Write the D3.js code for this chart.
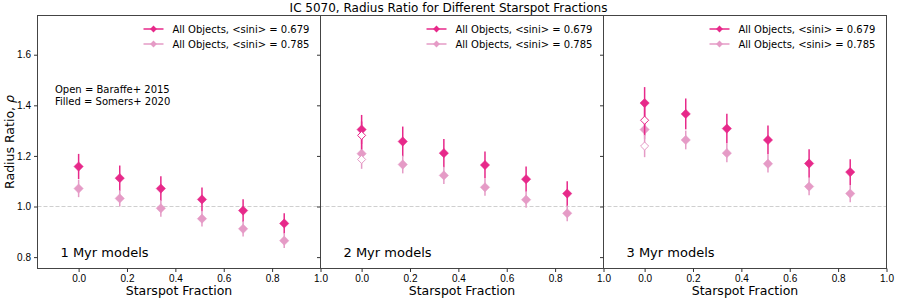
<!DOCTYPE html>
<meta charset="utf-8" />
<style>
  body {
    margin: 0;
    font-family: "DejaVu Sans", sans-serif;
  }
  .tick text {
    font-size: 10px;
    fill: #000;
  }
  .tick line,
  .domain {
    stroke: #333;
  }
</style>
<body>
  <div class="container"></div>

  <script src="https://d3js.org/d3.v7.min.js"></script>
  <script>
    // starspot fractions shared by all panels
    let spotFrac = [0, 0.17, 0.34, 0.51, 0.68, 0.85];
    let xTicks = [0, 0.2, 0.4, 0.6, 0.8, 1.0];
    let yTicks = [0.8, 1.0, 1.2, 1.4, 1.6];
    let panelNames = ["1 Myr models", "2 Myr models", "3 Myr models"];
    let legendNames = ["All Objects, <sini> = 0.679", "All Objects, <sini> = 0.785"];

    // Somers+ 2020 (filled), <sini> = 0.679
    let dark1 = [1.158, 1.112, 1.071, 1.028, 0.984, 0.933];
    let dark1Err = [0.05, 0.05, 0.049, 0.047, 0.045, 0.04];
    let dark2 = [1.304, 1.257, 1.211, 1.164, 1.108, 1.051];
    let dark2Err = [0.058, 0.059, 0.056, 0.053, 0.05, 0.049];
    let dark3 = [1.409, 1.366, 1.308, 1.263, 1.17, 1.136];
    let dark3Err = [0.063, 0.061, 0.059, 0.057, 0.056, 0.051];

    // Somers+ 2020 (filled), <sini> = 0.785
    let light1 = [1.071, 1.032, 0.993, 0.952, 0.912, 0.865];
    let light1Err = [0.034, 0.032, 0.033, 0.031, 0.031, 0.029];
    let light2 = [1.209, 1.166, 1.123, 1.076, 1.027, 0.973];
    let light2Err = [0.036, 0.035, 0.034, 0.033, 0.032, 0.031];
    let light3 = [1.304, 1.263, 1.211, 1.169, 1.079, 1.051];
    let light3Err = [0.038, 0.037, 0.036, 0.035, 0.034, 0.034];

    // Baraffe+ 2015 (open), only at zero spots, 2 and 3 Myr
    let openDark = [null, 1.281, 1.341];
    let openDarkErr = [null, 0.055, 0.06];
    let openLight = [null, 1.186, 1.239];
    let openLightErr = [null, 0.037, 0.044];

    let darkColor = "#e7298a";
    let lightColor = "#e59bc6";

    var width = 897,
      height = 300;
    var plotTop = 15.5,
      plotBottom = 268.5,
      panelW = 283,
      panelLefts = [37.5, 320.5, 603.5];

    var svg = d3
      .select(".container")
      .append("svg")
      .attr("width", width)
      .attr("height", height);

    let y = d3.scaleLinear().domain([0.755, 1.755]).range([plotBottom, plotTop]);

    let darks = [dark1, dark2, dark3];
    let darkErrs = [dark1Err, dark2Err, dark3Err];
    let lights = [light1, light2, light3];
    let lightErrs = [light1Err, light2Err, light3Err];

    let diamond = d3.symbol().type(d3.symbolDiamond2);

    function drawSeries(g, x, vals, errs, color, open) {
      let pts = vals.map(function (v, i) {
        return { x: spotFrac[i], y: v, e: errs[i] };
      }).filter(function (d) {
        return d.y != null;
      });

      g.selectAll(null)
        .data(pts)
        .enter()
        .append("line")
        .attr("x1", function (d) { return x(d.x); })
        .attr("x2", function (d) { return x(d.x); })
        .attr("y1", function (d) { return y(d.y - d.e); })
        .attr("y2", function (d) { return y(d.y + d.e); })
        .attr("stroke", color)
        .attr("stroke-width", 1.5);

      g.selectAll(null)
        .data(pts)
        .enter()
        .append("path")
        .attr("d", diamond.size(open ? 42 : 55)())
        .attr("transform", function (d) {
          return "translate(" + x(d.x) + "," + y(d.y) + ")";
        })
        .attr("fill", open ? "white" : color)
        .attr("stroke", color)
        .attr("stroke-width", open ? 1 : 0.5);
    }

    // dashed y = 1 line across all panels
    svg.append("line")
      .attr("x1", panelLefts[0])
      .attr("x2", panelLefts[2] + panelW)
      .attr("y1", y(1))
      .attr("y2", y(1))
      .attr("stroke", "#cfcfcf")
      .attr("stroke-dasharray", "4,2")
      .attr("stroke-width", 1);

    panelLefts.forEach(function (left, p) {
      let x = d3.scaleLinear().domain([-0.17, 1.0]).range([left, left + panelW]);
      let g = svg.append("g");

      drawSeries(g, x, darks[p], darkErrs[p], darkColor, false);
      drawSeries(g, x, lights[p], lightErrs[p], lightColor, false);
      drawSeries(g, x, [openDark[p]], [openDarkErr[p]], darkColor, true);
      drawSeries(g, x, [openLight[p]], [openLightErr[p]], lightColor, true);

      // frame
      g.append("rect")
        .attr("x", left)
        .attr("y", plotTop)
        .attr("width", panelW)
        .attr("height", plotBottom - plotTop)
        .attr("fill", "none")
        .attr("stroke", "#444")
        .attr("stroke-width", 1);

      let xAxis = g
        .append("g")
        .attr("transform", "translate(0," + plotBottom + ")")
        .call(d3.axisBottom(x).tickValues(xTicks).tickFormat(d3.format(".1f")).tickSize(3.5).tickPadding(3));
      xAxis.select(".domain").remove();

      let yAxis = g
        .append("g")
        .attr("transform", "translate(" + left + ",0)")
        .call(
          d3.axisLeft(y).tickValues(yTicks).tickFormat(d3.format(".1f")).tickSize(3.5).tickPadding(3)
        );
      yAxis.select(".domain").remove();
      if (p > 0) yAxis.selectAll(".tick text").remove();

      g.append("text")
        .attr("x", left + panelW / 2)
        .attr("y", 295)
        .attr("text-anchor", "middle")
        .style("font-size", "12.5px")
        .text("Starspot Fraction");

      g.append("text")
        .attr("x", left + 23)
        .attr("y", 257)
        .style("font-size", "13px")
        .text(panelNames[p]);

      // legend
      [darkColor, lightColor].forEach(function (c, i) {
        let ly = 29 + i * 15;
        g.append("line")
          .attr("x1", left + 106)
          .attr("x2", left + 126)
          .attr("y1", ly)
          .attr("y2", ly)
          .attr("stroke", c)
          .attr("stroke-width", 1.5);
        g.append("path")
          .attr("d", diamond.size(30)())
          .attr("transform", "translate(" + (left + 116) + "," + ly + ")")
          .attr("fill", c);
        g.append("text")
          .attr("x", left + 135)
          .attr("y", ly + 3.5)
          .style("font-size", "10px")
          .text(legendNames[i]);
      });
    });

    svg.append("text")
      .attr("x", 55)
      .attr("y", 93)
      .style("font-size", "10px")
      .text("Open = Baraffe+ 2015");
    svg.append("text")
      .attr("x", 55)
      .attr("y", 105)
      .style("font-size", "10px")
      .text("Filled = Somers+ 2020");

    svg.append("text")
      .attr("x", width / 2)
      .attr("y", 12)
      .attr("text-anchor", "middle")
      .style("font-size", "12px")
      .text("IC 5070, Radius Ratio for Different Starspot Fractions");

    let yLabel = svg.append("text")
      .attr("transform", "translate(14," + (plotTop + plotBottom) / 2 + ") rotate(-90)")
      .attr("text-anchor", "middle")
      .style("font-size", "12.5px")
      .text("Radius Ratio, ");
    yLabel.append("tspan").style("font-style", "italic").text("ρ");
  </script>
</body>
